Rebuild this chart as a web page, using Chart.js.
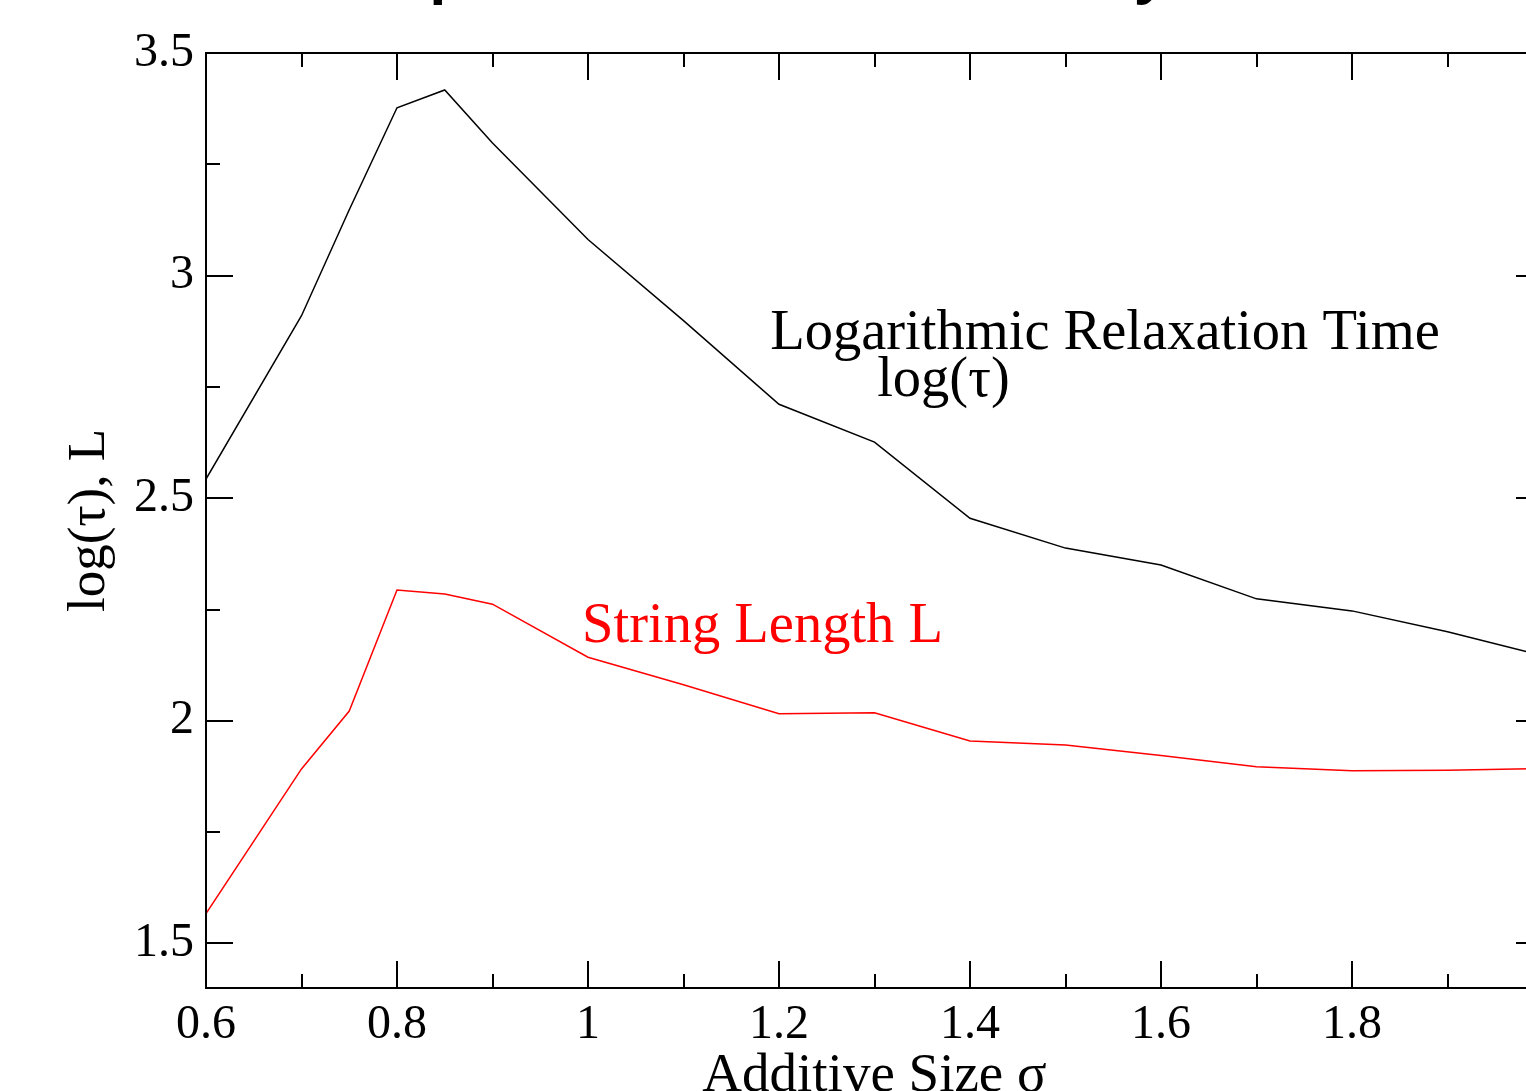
<!DOCTYPE html>
<html><head><meta charset="utf-8">
<script src="https://cdn.jsdelivr.net/npm/chart.js@4.4.1/dist/chart.umd.min.js"></script>
<style>
html,body{margin:0;padding:0;background:#fff;overflow:hidden;width:1526px;height:1091px;}
#wrap{position:absolute;left:0;top:-58px;width:1698px;height:1200px;}
</style></head><body>
<div id="wrap"><canvas id="c" width="1698" height="1200"></canvas></div>
<script>
const titleText = 'Impact of Additive Size on Dynamics';
const xTitle = 'Additive Size σ';
const yTitle = 'log(τ), L';
const sigma   = [0.6, 0.7, 0.75, 0.8, 0.85, 0.9, 1.0, 1.1, 1.2, 1.3, 1.4, 1.5, 1.6, 1.7, 1.8, 1.9, 2.0];
const logTau  = [2.543, 2.91, 3.148, 3.377, 3.417, 3.298, 3.081, 2.899, 2.711, 2.626, 2.455, 2.388, 2.350, 2.274, 2.247, 2.200, 2.146];
const stringL = [1.567, 1.892, 2.022, 2.294, 2.285, 2.262, 2.143, 2.081, 2.016, 2.018, 1.955, 1.946, 1.922, 1.897, 1.888, 1.889, 1.893];
const xTickValues = [0.6, 0.7, 0.8, 0.9, 1.0, 1.1, 1.2, 1.3, 1.4, 1.5, 1.6, 1.7, 1.8, 1.9, 2.0];
const yTickValues = [1.5, 1.75, 2.0, 2.25, 2.5, 2.75, 3.0, 3.25, 3.5];
const xMajor = 0.2, yMajor = 0.5;

const SERIF = 'Liberation Serif';
Chart.defaults.font.family = SERIF;
Chart.defaults.color = '#000';

function isMult(v, step){ const r = v/step; return Math.abs(r - Math.round(r)) < 1e-6; }

const annotations = [
  {text:'Logarithmic Relaxation Time', x:1.1908, y:2.8363, color:'#000'},
  {text:'log(τ)', x:1.3028, y:2.7287, color:'#000'},
  {text:'String Length L', x:0.9938, y:2.1771, color:'#ff0000'}
];

const titlePlugin = {
  id:'topTitle',
  afterDraw(chart){
    const ctx = chart.ctx;
    ctx.save();
    ctx.font = 'bold 56px "Open Sans"';
    ctx.fillStyle = '#000';
    ctx.textAlign = 'center';
    ctx.textBaseline = 'middle';
    ctx.fillText(titleText, 861, 33.6);
    ctx.restore();
  }
};

const framePlugin = {
  id:'frame',
  afterDatasetsDraw(chart){
    const {ctx, chartArea:a, scales:{x, y}} = chart;
    ctx.save();
    ctx.strokeStyle = '#000';
    ctx.lineWidth = 2;
    ctx.strokeRect(a.left, a.top, a.right - a.left, a.bottom - a.top);
    ctx.beginPath();
    x.ticks.forEach(t => {
      const px = Math.round(x.getPixelForValue(t.value));
      const len = isMult(t.value, xMajor) ? 27 : 14;
      ctx.moveTo(px, a.bottom); ctx.lineTo(px, a.bottom - len);
      ctx.moveTo(px, a.top); ctx.lineTo(px, a.top + len);
    });
    y.ticks.forEach(t => {
      const py = Math.round(y.getPixelForValue(t.value));
      const len = isMult(t.value, yMajor) ? 27 : 14;
      ctx.moveTo(a.left, py); ctx.lineTo(a.left + len, py);
      ctx.moveTo(a.right, py); ctx.lineTo(a.right - len, py);
    });
    ctx.stroke();
    ctx.font = '56.5px "' + SERIF + '"';
    ctx.textBaseline = 'alphabetic';
    ctx.textAlign = 'left';
    annotations.forEach(an => {
      ctx.fillStyle = an.color;
      ctx.fillText(an.text, x.getPixelForValue(an.x), y.getPixelForValue(an.y));
    });
    ctx.restore();
  }
};

new Chart(document.getElementById('c'), {
  type:'line',
  data:{
    datasets:[
      {label:'log(τ)', data:sigma.map((s,i)=>({x:s, y:logTau[i]})), borderColor:'#000', borderWidth:1.5, pointRadius:0, tension:0, fill:false},
      {label:'L', data:sigma.map((s,i)=>({x:s, y:stringL[i]})), borderColor:'#ff0000', borderWidth:1.5, pointRadius:0, tension:0, fill:false}
    ]
  },
  options:{
    responsive:false, animation:false, devicePixelRatio:1,
    layout:{padding:{left:0, top:111, right:155, bottom:0}},
    plugins:{
      legend:{display:false}, tooltip:{enabled:false},
      title:{display:false}
    },
    scales:{
      x:{type:'linear', min:0.6, max:2.0,
        afterFit(s){ s.height = 154; },
        afterBuildTicks(s){ s.ticks = xTickValues.map(v => ({value:v})); },
        grid:{display:false, drawTicks:false}, border:{display:false},
        ticks:{autoSkip:false, maxRotation:0, minRotation:0, padding:9, color:'#000',
          font:{size:48, family:SERIF},
          callback:(v)=> isMult(v, xMajor) ? String(+v.toFixed(1)) : ''},
        title:{display:true, text:xTitle, color:'#000', font:{size:55, family:SERIF}, padding:{top:0, bottom:32}}
      },
      y:{type:'linear', min:1.4, max:3.5,
        afterFit(s){ s.width = 206; },
        afterBuildTicks(s){ s.ticks = yTickValues.map(v => ({value:v})); },
        grid:{display:false, drawTicks:false}, border:{display:false},
        ticks:{autoSkip:false, padding:12, color:'#000',
          font:{size:48, family:SERIF},
          callback:(v)=> isMult(v, yMajor) ? String(+v.toFixed(2)) : ''},
        title:{display:true, text:yTitle, color:'#000', font:{size:53, family:SERIF}, padding:{top:58, bottom:0}}
      }
    }
  },
  plugins:[framePlugin, titlePlugin]
});
</script>
</body></html>
